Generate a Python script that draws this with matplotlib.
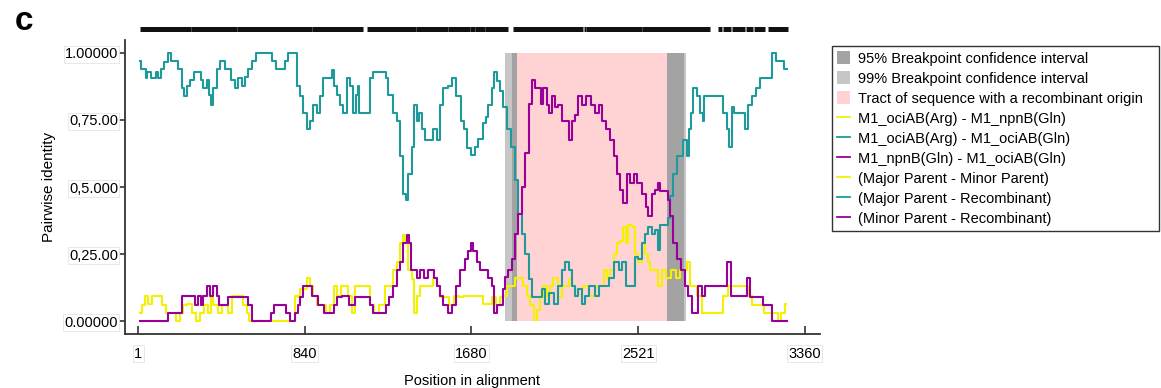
import numpy as np
import matplotlib
matplotlib.use("Agg")
import matplotlib.pyplot as plt
import matplotlib.transforms as mtransforms
from matplotlib.patches import Patch
from matplotlib.lines import Line2D

plt.rcParams['font.family'] = ['Liberation Sans', 'DejaVu Sans']

########## data: pairwise identity along the alignment

# Major Parent - Minor Parent  (M1_ociAB(Arg) - M1_npnB(Gln))
pos_maj_min = [10, 26, 43, 61, 77, 111, 127, 153, 178, 203, 220, 236, 262, 279, 304, 320, 346, 363, 371, 389,
               414, 430, 447, 464, 480, 514, 539, 556, 564, 782, 800, 808, 825, 842, 858, 875, 892, 909, 934, 960,
               977, 993, 1010, 1035, 1051, 1069, 1086, 1102, 1161, 1178, 1203, 1228, 1262, 1279, 1295, 1312, 1328, 1338, 1354, 1371,
               1388, 1396, 1413, 1430, 1480, 1497, 1513, 1530, 1556, 1581, 1606, 1632, 1648, 1724, 1749, 1774, 1791, 1816, 1833, 1850,
               1867, 1892, 1909, 1934, 1950, 1968, 1985, 2001, 2018, 2034, 2051, 2069, 2085, 2102, 2127, 2143, 2161, 2178, 2194, 2211,
               2228, 2253, 2288, 2313, 2338, 2355, 2371, 2388, 2405, 2422, 2438, 2455, 2463, 2480, 2497, 2514, 2530, 2547, 2564, 2572,
               2589, 2614, 2631, 2648, 2673, 2698, 2724, 2740, 2757, 2773, 2790, 2807, 2824, 2857, 2942, 2958, 2991, 3059, 3085, 3101,
               3143, 3168, 3219, 3227, 3252, 3268]
val_maj_min = [0.03, 0.06, 0.095, 0.065, 0.095, 0.095, 0.06, 0.03, 0.03, 0.0, 0.03, 0.06, 0.065, 0.03, 0.0, 0.03, 0.06, 0.03, 0.095, 0.06,
               0.03, 0.06, 0.06, 0.03, 0.095, 0.095, 0.06, 0.03, 0.0, 0.0, 0.095, 0.09, 0.12, 0.12, 0.16, 0.13, 0.095, 0.06, 0.06, 0.03,
               0.06, 0.13, 0.095, 0.13, 0.13, 0.095, 0.03, 0.13, 0.13, 0.06, 0.03, 0.06, 0.13, 0.13, 0.19, 0.22, 0.29, 0.32, 0.29, 0.19,
               0.155, 0.03, 0.095, 0.13, 0.13, 0.16, 0.13, 0.09, 0.09, 0.06, 0.095, 0.09, 0.095, 0.095, 0.065, 0.065, 0.09, 0.06, 0.09, 0.095,
               0.13, 0.13, 0.16, 0.16, 0.13, 0.095, 0.06, 0.005, 0.04, 0.09, 0.13, 0.095, 0.13, 0.16, 0.09, 0.13, 0.13, 0.155, 0.13, 0.095,
               0.12, 0.13, 0.095, 0.13, 0.13, 0.19, 0.16, 0.19, 0.25, 0.29, 0.30, 0.35, 0.29, 0.36, 0.35, 0.25, 0.22, 0.29, 0.25, 0.22,
               0.19, 0.19, 0.13, 0.19, 0.16, 0.19, 0.16, 0.19, 0.19, 0.22, 0.13, 0.13, 0.095, 0.03, 0.03, 0.095, 0.13, 0.13, 0.095, 0.06,
               0.06, 0.03, 0.03, 0.0, 0.03, 0.065]

# Major Parent - Recombinant  (M1_ociAB(Arg) - M1_ociAB(Gln))
pos_maj_rec = [10, 18, 35, 43, 51, 61, 69, 86, 94, 111, 119, 144, 161, 170, 195, 211, 228, 236, 254, 271,
               295, 312, 320, 338, 355, 363, 371, 389, 405, 422, 455, 480, 497, 514, 531, 548, 564, 581, 607, 665,
               682, 708, 733, 749, 766, 792, 808, 825, 842, 858, 875, 892, 909, 926, 942, 968, 985, 993, 1010, 1026,
               1043, 1061, 1077, 1090, 1102, 1110, 1119, 1161, 1178, 1194, 1245, 1254, 1270, 1295, 1312, 1328, 1346, 1354, 1371, 1388,
               1396, 1413, 1421, 1438, 1455, 1480, 1497, 1513, 1530, 1547, 1572, 1589, 1615, 1640, 1648, 1665, 1690, 1707, 1724, 1749,
               1757, 1774, 1791, 1800, 1816, 1833, 1850, 1867, 1892, 1909, 1925, 1942, 1960, 1976, 1993, 2026, 2043, 2060, 2085, 2110,
               2127, 2143, 2161, 2178, 2194, 2211, 2228, 2245, 2262, 2288, 2313, 2338, 2363, 2388, 2413, 2430, 2446, 2471, 2497, 2514,
               2530, 2547, 2564, 2580, 2597, 2614, 2623, 2639, 2664, 2673, 2689, 2707, 2724, 2740, 2757, 2773, 2782, 2790, 2807, 2824,
               2841, 2849, 2857, 2942, 2958, 2975, 2983, 3001, 3009, 3051, 3067, 3085, 3101, 3126, 3143, 3186, 3202, 3227, 3252, 3260,
               3272]
val_maj_rec = [0.97, 0.94, 0.94, 0.905, 0.93, 0.93, 0.905, 0.905, 0.93, 0.905, 0.94, 0.965, 1.0, 0.97, 0.97, 0.94, 0.87, 0.84, 0.875, 0.9,
               0.93, 0.93, 0.9, 0.87, 0.9, 0.845, 0.805, 0.87, 0.94, 0.97, 0.94, 0.9, 0.87, 0.905, 0.875, 0.91, 0.94, 0.97, 1.0, 1.0,
               0.97, 0.94, 0.94, 0.97, 1.0, 1.0, 0.875, 0.84, 0.775, 0.715, 0.745, 0.805, 0.775, 0.84, 0.905, 0.905, 0.935, 0.875, 0.845, 0.805,
               0.775, 0.905, 0.875, 0.775, 0.845, 0.875, 0.775, 0.775, 0.905, 0.93, 0.93, 0.905, 0.845, 0.775, 0.745, 0.615, 0.475, 0.45, 0.55, 0.65,
               0.805, 0.745, 0.775, 0.715, 0.675, 0.675, 0.715, 0.675, 0.805, 0.87, 0.875, 0.905, 0.84, 0.745, 0.715, 0.645, 0.62, 0.65, 0.68, 0.74,
               0.76, 0.805, 0.87, 0.93, 0.895, 0.86, 0.8, 0.715, 0.65, 0.525, 0.4, 0.325, 0.25, 0.155, 0.09, 0.09, 0.12, 0.065, 0.105, 0.065,
               0.13, 0.19, 0.22, 0.19, 0.13, 0.095, 0.12, 0.065, 0.095, 0.13, 0.095, 0.13, 0.13, 0.16, 0.22, 0.19, 0.22, 0.13, 0.13, 0.24,
               0.23, 0.29, 0.325, 0.35, 0.325, 0.34, 0.265, 0.36, 0.36, 0.385, 0.465, 0.55, 0.615, 0.615, 0.675, 0.615, 0.715, 0.775, 0.87, 0.84,
               0.775, 0.745, 0.84, 0.84, 0.775, 0.715, 0.65, 0.8, 0.775, 0.775, 0.715, 0.805, 0.84, 0.87, 0.905, 0.905, 1.0, 0.97, 0.97, 0.94,
               0.94]

# Minor Parent - Recombinant  (M1_npnB(Gln) - M1_ociAB(Gln))
pos_min_rec = [10, 144, 161, 211, 228, 279, 295, 312, 320, 338, 355, 371, 389, 405, 414, 447, 464, 548, 564, 581,
               665, 673, 699, 741, 749, 782, 800, 808, 825, 842, 866, 884, 901, 917, 934, 942, 977, 993, 1010, 1043,
               1086, 1102, 1161, 1178, 1194, 1245, 1254, 1279, 1295, 1312, 1328, 1346, 1363, 1371, 1379, 1396, 1413, 1430, 1455, 1472,
               1488, 1497, 1513, 1530, 1547, 1572, 1589, 1615, 1632, 1640, 1656, 1673, 1681, 1698, 1716, 1732, 1757, 1774, 1791, 1800,
               1816, 1833, 1841, 1858, 1875, 1892, 1909, 1925, 1942, 1960, 1976, 1993, 2010, 2026, 2034, 2051, 2069, 2077, 2094, 2110,
               2127, 2143, 2161, 2178, 2194, 2211, 2228, 2245, 2270, 2295, 2313, 2329, 2346, 2371, 2388, 2405, 2422, 2438, 2455, 2471,
               2489, 2506, 2522, 2555, 2564, 2580, 2597, 2614, 2623, 2639, 2664, 2673, 2689, 2707, 2724, 2748, 2765, 2782, 2798, 2816,
               2833, 2849, 2866, 2958, 2983, 2991, 3059, 3075, 3093, 3143, 3160, 3186, 3202, 3272]
val_min_rec = [0.0, 0.0, 0.03, 0.03, 0.095, 0.095, 0.06, 0.095, 0.06, 0.095, 0.13, 0.095, 0.13, 0.095, 0.06, 0.06, 0.09, 0.09, 0.06, 0.0,
               0.0, 0.03, 0.06, 0.06, 0.03, 0.0, 0.03, 0.06, 0.09, 0.13, 0.13, 0.095, 0.095, 0.06, 0.06, 0.03, 0.03, 0.06, 0.09, 0.095,
               0.06, 0.09, 0.09, 0.06, 0.03, 0.03, 0.06, 0.09, 0.13, 0.19, 0.22, 0.29, 0.32, 0.29, 0.19, 0.19, 0.16, 0.19, 0.16, 0.19,
               0.19, 0.16, 0.13, 0.095, 0.06, 0.03, 0.06, 0.13, 0.19, 0.19, 0.23, 0.26, 0.29, 0.26, 0.22, 0.19, 0.19, 0.16, 0.13, 0.03,
               0.06, 0.06, 0.12, 0.165, 0.19, 0.23, 0.325, 0.4, 0.5, 0.625, 0.81, 0.9, 0.87, 0.87, 0.81, 0.87, 0.805, 0.775, 0.84, 0.8,
               0.805, 0.745, 0.745, 0.675, 0.745, 0.77, 0.84, 0.805, 0.84, 0.805, 0.775, 0.805, 0.745, 0.715, 0.675, 0.615, 0.55, 0.49, 0.44, 0.55,
               0.515, 0.55, 0.515, 0.475, 0.425, 0.39, 0.475, 0.49, 0.515, 0.485, 0.485, 0.45, 0.39, 0.29, 0.23, 0.19, 0.13, 0.095, 0.03, 0.03,
               0.13, 0.095, 0.13, 0.13, 0.22, 0.095, 0.095, 0.16, 0.09, 0.09, 0.06, 0.06, 0.0, 0.0]

# breakpoint confidence intervals and recombinant tract (alignment positions)
ci99_spans = [(1850, 1911), (2664, 2760)]
ci95_spans = [(1883, 1911), (2664, 2753)]
tract_span = (1911, 2664)

# informative sites bar along the top
site_blocks = [(10, 265), (269, 497), (501, 875), (879, 1134), (1154, 1399), (1403, 1560), (1564, 1671),
               (1675, 1696), (1700, 1747), (1751, 1865), (1890, 2241), (2245, 2256), (2260, 2538), (2542, 2883),
               (2923, 2945), (2950, 2990), (2995, 3060), (3065, 3100), (3105, 3158), (3177, 3276)]

xticks = [1, 840, 1680, 2521, 3360]
yticks = [0.0, 0.25, 0.5, 0.75, 1.0]
ytick_labels = ['0.00000', '0,25.00', '0,5.000', '0,75.00', '1.00000']

c_yellow = '#f2f200'
c_teal = '#1f9a9a'
c_purple = '#990099'
c_ci95 = '#a3a3a3'
c_ci99 = '#c6c6c6'
c_tract = '#ffd3d3'

########## plot
fig = plt.figure(figsize=(11.61, 3.88), dpi=100)
ax = fig.add_axes([125/1161, 54/388, 695/1161, 294/388])

for a, b in ci99_spans:
    ax.fill_between([a, b], 0, 1, color=c_ci99, lw=0, zorder=1)
for a, b in ci95_spans:
    ax.fill_between([a, b], 0, 1, color=c_ci95, lw=0, zorder=1)
ax.fill_between(list(tract_span), 0, 1, color=c_tract, lw=0, zorder=1)

lw = 1.5
ax.plot(pos_maj_min, val_maj_min, color=c_yellow, lw=lw, drawstyle='steps-mid', zorder=3)
ax.plot(pos_maj_rec, val_maj_rec, color=c_teal, lw=lw, drawstyle='steps-mid', zorder=4)
ax.plot(pos_min_rec, val_min_rec, color=c_purple, lw=lw, drawstyle='steps-mid', zorder=5)

# sites bar sits just above the axes
trans = mtransforms.blended_transform_factory(ax.transData, ax.transAxes)
for a, b in site_blocks:
    ax.plot([a, b], [1.037, 1.037], color='#111111', lw=3.6, solid_capstyle='butt',
            transform=trans, clip_on=False)

ax.set_xlim(-66, 3437)
ax.set_ylim(-0.0485, 1.0485)

for s in ['top', 'right']:
    ax.spines[s].set_visible(False)
for s in ['left', 'bottom']:
    ax.spines[s].set_color('#333333')
    ax.spines[s].set_linewidth(1.3)

box = dict(boxstyle='square,pad=0.08', fc='white', ec='#e4e4e4', lw=0.6)
ax.set_xticks(xticks)
ax.set_xticklabels([str(t) for t in xticks], fontsize=10.5, bbox=box)
ax.set_yticks(yticks)
ax.set_yticklabels(ytick_labels, fontsize=10.5, bbox=box)
ax.tick_params(axis='x', direction='in', length=6, width=1.2, color='#333333', pad=9)
ax.tick_params(axis='y', direction='out', length=4, width=1.2, color='#333333', pad=1)

ax.set_xlabel('Position in alignment', fontsize=10.5, labelpad=10)
ax.set_ylabel('Pairwise identity', fontsize=11, labelpad=6)

fig.text(15/1161, 1 - 30/388, 'c', fontsize=24, fontweight='bold')

handles = [Patch(fc=c_ci95, ec='none'), Patch(fc=c_ci99, ec='none'), Patch(fc=c_tract, ec='none'),
           Line2D([], [], color=c_yellow, lw=1.3), Line2D([], [], color=c_teal, lw=1.3),
           Line2D([], [], color=c_purple, lw=1.3), Line2D([], [], color=c_yellow, lw=1.3),
           Line2D([], [], color=c_teal, lw=1.3), Line2D([], [], color=c_purple, lw=1.3)]
labels = ['95% Breakpoint confidence interval', '99% Breakpoint confidence interval',
          'Tract of sequence with a recombinant origin',
          'M1_ociAB(Arg) - M1_npnB(Gln)', 'M1_ociAB(Arg) - M1_ociAB(Gln)', 'M1_npnB(Gln) - M1_ociAB(Gln)',
          '(Major Parent - Minor Parent)', '(Major Parent - Recombinant)', '(Minor Parent - Recombinant)']
leg = fig.legend(handles, labels, loc='upper left',
                 bbox_to_anchor=(832/1161, 0, 327/1161, 1 - 46/388), mode='expand',
                 fontsize=10.5, frameon=True, fancybox=False, edgecolor='black',
                 handlelength=0.9, handleheight=1.0, handletextpad=0.5, labelspacing=0.38,
                 borderpad=0.35, borderaxespad=0)
leg.get_frame().set_linewidth(1.0)

plt.savefig('out.png', dpi=100)
